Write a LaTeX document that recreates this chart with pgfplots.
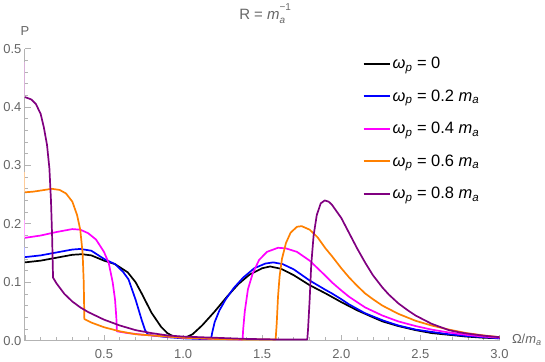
\documentclass[border=0pt]{standalone}
\usepackage{pgfplots}
\pgfplotsset{compat=1.18}
\usepackage{fontspec}
\setmainfont{Liberation Sans}
\definecolor{axgray}{HTML}{B3B3B3}
\definecolor{txgray}{HTML}{666666}
\definecolor{mmag}{HTML}{FF00FF}
\definecolor{morange}{HTML}{FF8000}
\definecolor{mpurple}{HTML}{800080}
\newcommand{\omp}{\textit{ω}\textsubscript{\textit{p}}}
\newcommand{\ma}{\textit{m}\textsubscript{\textit{a}}}
\begin{document}
\begin{tikzpicture}
\begin{axis}[
    scale only axis,
    width=474bp, height=291.7bp,
    xmin=0, xmax=3, ymin=0, ymax=0.5,
    axis lines=left,
    axis line style={axgray, line width=0.8bp, -},
    clip=false,
    xtick={0,0.5,...,3}, ytick={0,0.1,...,0.5},
    minor x tick num=4, minor y tick num=4,
    tick align=inside,
    major tick length=6bp, minor tick length=3.5bp,
    tick style={axgray, line width=0.7bp},
    xticklabels={,0.5,1.0,1.5,2.0,2.5,3.0},
    /pgf/number format/assume math mode=true,
    yticklabel style={/pgf/number format/.cd, fixed, fixed zerofill, precision=1},
    ticklabel style={font=\fontsize{13}{15}\selectfont, text=txgray},
    xticklabel style={yshift=-5bp},
    legend style={at={(0.705,0.985)}, anchor=north west, draw=none, fill=none,
        font=\fontsize{16.5}{19}\selectfont, row sep=15.5bp},
    legend cell align=left,
    legend image code/.code={\draw[#1, line width=2bp] (0bp,0bp) -- (26bp,0bp);},
    every axis plot/.append style={line width=1.7bp, line join=round},
]
\addplot[black] coordinates {
(0,0.134)(0.1,0.137)(0.2,0.142)(0.3,0.147)(0.36,0.148)(0.42,0.146)(0.5,0.137)
(0.57,0.131)(0.65,0.117)(0.7,0.100)(0.74,0.080)(0.8,0.048)(0.86,0.024)(0.9,0.013)
(0.94,0.007)(0.98,0.005)(1.02,0.006)(1.06,0.011)(1.12,0.026)(1.2,0.050)(1.28,0.076)
(1.35,0.097)(1.42,0.113)(1.5,0.124)(1.55,0.127)(1.62,0.123)(1.7,0.112)(1.8,0.095)
(1.9,0.081)(2.0,0.066)(2.1,0.052)(2.2,0.040)(2.26,0.033)(2.36,0.025)(2.47,0.018)
(2.57,0.013)(2.68,0.010)(2.79,0.007)(2.9,0.005)(3.0,0.004)};
\addlegendentry{\omp\ = 0}
\addplot[blue] coordinates {
(0,0.143)(0.1,0.146)(0.2,0.151)(0.3,0.156)(0.35,0.157)(0.42,0.154)(0.5,0.140)
(0.57,0.131)(0.62,0.118)(0.655,0.105)(0.7,0.070)(0.74,0.034)(0.76,0.018)(0.777,0.011)
(0.8,0.009)(0.9,0.006)(1.0,0.004)(1.1,0.003)(1.177,0.003)
(1.185,0.015)(1.2,0.032)(1.23,0.052)(1.27,0.071)(1.32,0.090)(1.38,0.108)(1.45,0.124)
(1.52,0.132)(1.57,0.134)(1.63,0.131)(1.7,0.122)(1.8,0.103)(1.9,0.087)(1.94,0.081)
(2.0,0.071)(2.05,0.062)(2.15,0.047)(2.26,0.035)(2.36,0.026)(2.47,0.019)(2.57,0.015)
(2.68,0.011)(2.79,0.008)(2.9,0.006)(3.0,0.004)};
\addlegendentry{\omp\ = 0.2 \ma}
\addplot[mmag] coordinates {
(0,0.176)(0.1,0.180)(0.2,0.186)(0.3,0.191)(0.35,0.190)(0.4,0.184)(0.45,0.173)
(0.5,0.152)(0.53,0.133)(0.555,0.100)(0.57,0.070)(0.578,0.040)(0.582,0.016)
(0.65,0.013)(0.75,0.010)(0.85,0.008)(1.0,0.005)(1.2,0.003)(1.376,0.002)
(1.38,0.020)(1.39,0.050)(1.41,0.088)(1.44,0.115)(1.48,0.138)(1.53,0.152)(1.6,0.159)
(1.65,0.158)(1.72,0.152)(1.8,0.137)(1.9,0.111)(1.94,0.100)(2.0,0.086)(2.05,0.075)
(2.15,0.057)(2.26,0.043)(2.36,0.033)(2.47,0.025)(2.57,0.019)(2.68,0.014)(2.79,0.010)
(2.9,0.007)(3.0,0.005)};
\addlegendentry{\omp\ = 0.4 \ma}
\addplot[morange] coordinates {
(0,0.254)(0.05,0.255)(0.1,0.257)(0.17,0.260)(0.22,0.258)(0.26,0.252)(0.3,0.238)
(0.33,0.215)(0.35,0.190)(0.365,0.150)(0.372,0.100)(0.376,0.037)(0.42,0.031)
(0.5,0.023)(0.6,0.016)(0.7,0.011)(0.8,0.009)(0.9,0.007)(1.0,0.005)(1.2,0.003)
(1.4,0.002)(1.585,0.002)
(1.592,0.030)(1.6,0.075)(1.61,0.110)(1.625,0.140)(1.65,0.167)(1.68,0.185)(1.72,0.195)
(1.75,0.196)(1.8,0.190)(1.85,0.177)(1.9,0.158)(1.94,0.145)(2.0,0.124)(2.05,0.108)
(2.1,0.094)(2.15,0.081)(2.2,0.071)(2.26,0.060)(2.36,0.046)(2.47,0.034)(2.57,0.026)
(2.68,0.019)(2.79,0.013)(2.9,0.009)(3.0,0.006)};
\addlegendentry{\omp\ = 0.6 \ma}
\addplot[mpurple] coordinates {
(0,0.417)(0.04,0.413)(0.07,0.405)(0.1,0.388)(0.12,0.365)(0.14,0.335)(0.155,0.295)
(0.165,0.240)(0.172,0.180)(0.178,0.108)(0.2,0.098)(0.25,0.080)(0.3,0.067)(0.35,0.057)
(0.4,0.049)(0.5,0.036)(0.6,0.026)(0.7,0.018)(0.8,0.013)(0.9,0.009)(1.0,0.007)
(1.2,0.005)(1.4,0.003)(1.6,0.002)(1.785,0.002)
(1.79,0.020)(1.8,0.070)(1.81,0.130)(1.825,0.180)(1.845,0.215)(1.87,0.235)(1.895,0.240)
(1.92,0.238)(1.94,0.233)(2.0,0.210)(2.05,0.184)(2.1,0.158)(2.15,0.134)(2.2,0.112)
(2.26,0.091)(2.3,0.079)(2.36,0.064)(2.42,0.052)(2.47,0.043)(2.52,0.036)(2.57,0.029)
(2.63,0.023)(2.68,0.018)(2.75,0.014)(2.8,0.012)(2.9,0.0085)(3.0,0.006)};
\addlegendentry{\omp\ = 0.8 \ma}
% faint spikes at the left edge
\addplot[blue!30, line width=0.8bp, forget plot] coordinates {(0,0.143)(0,0.160)};
\addplot[mmag!35, line width=0.8bp, forget plot] coordinates {(0,0.176)(0,0.206)};
\addplot[morange!40, line width=0.8bp, forget plot] coordinates {(0,0.254)(0,0.289)};
\addplot[mpurple!30, line width=0.8bp, forget plot] coordinates {(0,0.417)(0,0.477)};
\node[text=txgray, font=\fontsize{13}{15}\selectfont] at (rel axis cs:0,1) [yshift=18bp] {P};
\node[text=txgray, font=\fontsize{13}{15}\selectfont, anchor=west] at (rel axis cs:1,0) [xshift=9bp, yshift=1bp] {Ω/\ma};
\node[text=txgray, font=\fontsize{15}{18}\selectfont] at (rel axis cs:0.5,1) [yshift=35bp]
  {R = \textit{m}\rlap{\raisebox{0.6em}{\fontsize{10}{12}\selectfont −1}}\raisebox{-0.3em}{\fontsize{10}{12}\selectfont\textit{a}}};
\end{axis}
\end{tikzpicture}
\end{document}
